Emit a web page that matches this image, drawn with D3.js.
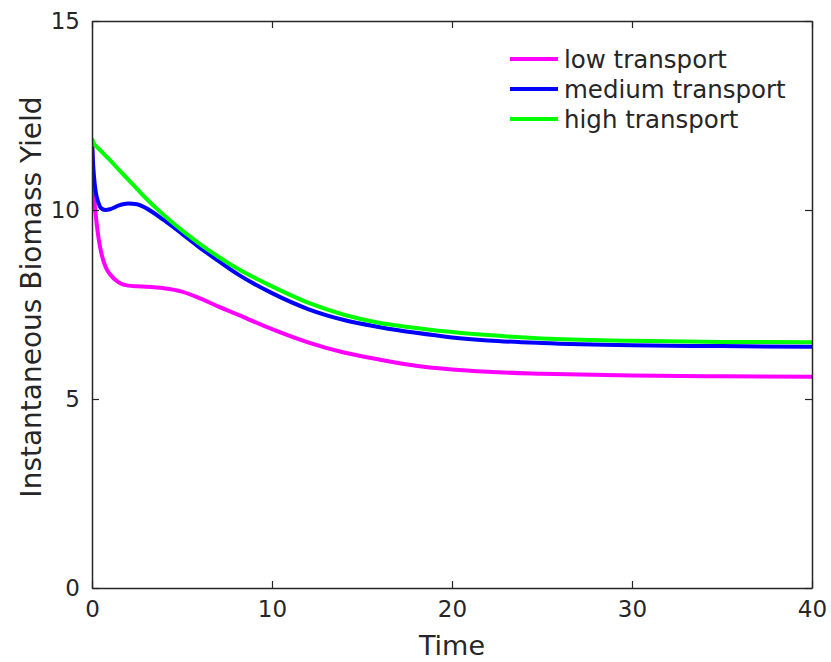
<!DOCTYPE html>
<html><head><meta charset="utf-8">
<script src="https://cdn.jsdelivr.net/npm/d3@7"></script>
<style>body{margin:0;background:#fff}svg{display:block}text{font-family:"DejaVu Sans",sans-serif;fill:#262626}</style>
</head><body><svg id="c" width="831" height="662"></svg>
<script>
const time = [0,0.05,0.1,0.2,0.35,0.5,0.75,1,1.5,2,2.5,3,4,5,6,7,8,10,12,14,16,18,20,22,25,30,35,40];
const lowTransport = [11.9,11.0,10.5,9.9,9.3,8.9,8.5,8.3,8.08,8.0,7.98,7.97,7.93,7.84,7.66,7.45,7.25,6.85,6.5,6.23,6.04,5.88,5.78,5.72,5.67,5.62,5.6,5.59];
const mediumTransport = [11.85,11.3,10.95,10.5,10.2,10.05,10.0,10.02,10.12,10.17,10.15,10.05,9.73,9.37,9.0,8.66,8.33,7.8,7.38,7.09,6.9,6.75,6.63,6.55,6.48,6.42,6.4,6.38];
const highTransport = [11.9,11.82,11.76,11.7,11.63,11.56,11.44,11.32,11.06,10.81,10.56,10.31,9.86,9.46,9.1,8.77,8.47,7.98,7.55,7.23,7.01,6.88,6.77,6.69,6.6,6.54,6.51,6.5];
const seriesNames = ["low transport","medium transport","high transport"];
const seriesColors = ["#ff00ff","#0000ff","#00ff00"];
const xTicks = [0,10,20,30,40];
const yTicks = [0,5,10,15];

const svg = d3.select("#c");
const L=92,R=812,T=21,B=588;
const x = d3.scaleLinear().domain([0,40]).range([L,R]);
const y = d3.scaleLinear().domain([0,15]).range([B,T]);
const series = [lowTransport, mediumTransport, highTransport];

const line = d3.line().x((d,i)=>x(time[i])).y(d=>y(d)).curve(d3.curveMonotoneX);
const g = svg.append("g");
g.append("defs").append("clipPath").attr("id","clip").append("rect").attr("x",L).attr("y",T).attr("width",R-L).attr("height",B-T);
series.forEach((s,k)=>{
  g.append("path").datum(s).attr("d",line).attr("fill","none").attr("stroke",seriesColors[k]).attr("stroke-width",4).attr("clip-path","url(#clip)");
});

// axes
const tl = 7;
const ax = svg.append("g");
const xb = ax.append("g").attr("transform",`translate(0,${B})`).call(d3.axisBottom(x).tickValues(xTicks).tickSizeInner(-tl).tickSizeOuter(0).tickPadding(13));
const xt = ax.append("g").attr("transform",`translate(0,${T})`).call(d3.axisTop(x).tickValues(xTicks).tickSizeInner(-tl).tickSizeOuter(0).tickFormat(""));
const yl = ax.append("g").attr("transform",`translate(${L},0)`).call(d3.axisLeft(y).tickValues(yTicks).tickSizeInner(-tl).tickSizeOuter(0).tickPadding(12));
const yr = ax.append("g").attr("transform",`translate(${R},0)`).call(d3.axisRight(y).tickValues(yTicks).tickSizeInner(-tl).tickSizeOuter(0).tickFormat(""));
[xb,xt,yl,yr].forEach(a=>{
  a.selectAll("path").attr("stroke","#262626").attr("stroke-width",1.5);
  a.selectAll("line").attr("stroke","#262626").attr("stroke-width",1.2);
  a.selectAll("text").attr("font-size",23).attr("fill","#262626").attr("font-family","DejaVu Sans");
});
svg.append("text").attr("x",(L+R)/2).attr("y",655).attr("text-anchor","middle").attr("font-size",27).text("Time");
svg.append("text").attr("transform",`translate(41,297) rotate(-90)`).attr("text-anchor","middle").attr("font-size",28).text("Instantaneous Biomass Yield");

// legend
const lg = svg.append("g");
seriesNames.forEach((n,k)=>{
  const yy = 59 + k*30;
  lg.append("line").attr("x1",510).attr("x2",558).attr("y1",yy).attr("y2",yy).attr("stroke",seriesColors[k]).attr("stroke-width",4);
  lg.append("text").attr("x",564).attr("y",yy).attr("dy","0.35em").attr("font-size",24.5).text(n);
});
</script></body></html>
